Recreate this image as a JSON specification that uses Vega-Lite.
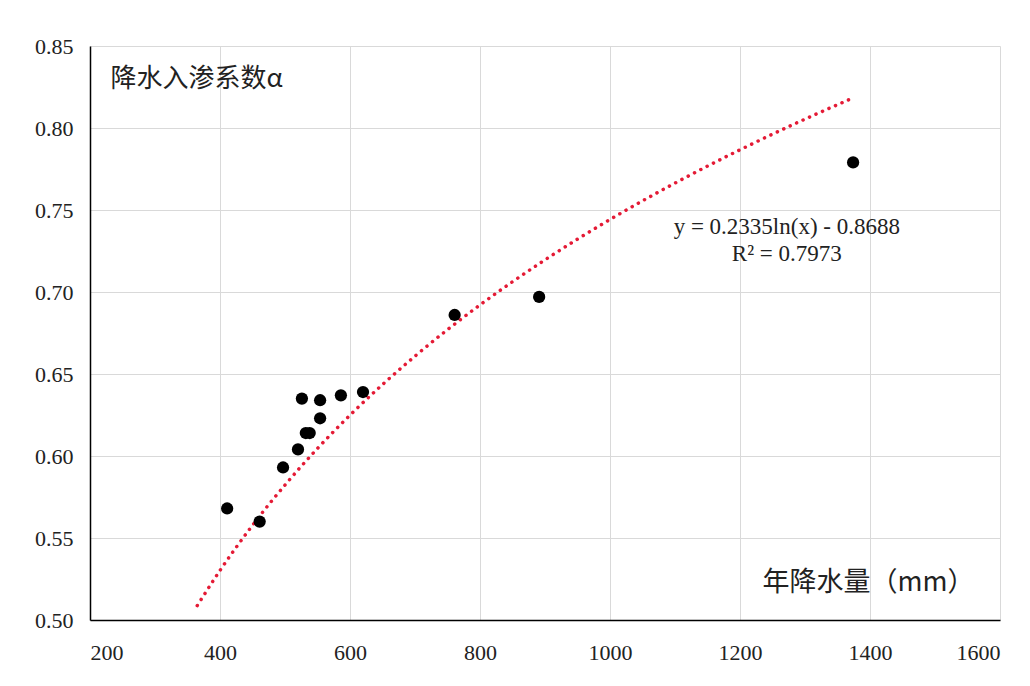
{
  "$schema": "https://vega.github.io/schema/vega-lite/v6.json",
  "autosize": {"type": "none"},
  "padding": {"left": 90, "top": 46, "right": 30, "bottom": 66},
  "width": 910,
  "height": 574,
  "background": "white",
  "config": {
    "view": {"stroke": null}
  },
  "datasets": {
    "obs": [
      {"x": 411, "y": 0.568},
      {"x": 461, "y": 0.560},
      {"x": 497, "y": 0.593},
      {"x": 520, "y": 0.604},
      {"x": 532, "y": 0.614},
      {"x": 538, "y": 0.614},
      {"x": 526, "y": 0.635},
      {"x": 554, "y": 0.634},
      {"x": 554, "y": 0.623},
      {"x": 586, "y": 0.637},
      {"x": 620, "y": 0.639},
      {"x": 761, "y": 0.686},
      {"x": 891, "y": 0.697},
      {"x": 1374, "y": 0.779}
    ],
    "trend": [
      {"x": 365, "y": 0.5088},
      {"x": 400, "y": 0.5302},
      {"x": 450, "y": 0.5577},
      {"x": 500, "y": 0.5823},
      {"x": 550, "y": 0.6046},
      {"x": 600, "y": 0.6249},
      {"x": 700, "y": 0.6609},
      {"x": 800, "y": 0.6921},
      {"x": 900, "y": 0.7196},
      {"x": 1000, "y": 0.7442},
      {"x": 1100, "y": 0.7664},
      {"x": 1200, "y": 0.7867},
      {"x": 1300, "y": 0.8054},
      {"x": 1372, "y": 0.8180}
    ]
  },
  "layer": [
    {
      "data": {"name": "trend"},
      "mark": {"type": "line", "color": "#e41a35", "strokeWidth": 3.5, "strokeDash": [0.1, 7], "strokeCap": "round", "interpolate": "monotone"},
      "encoding": {
        "x": {"field": "x", "type": "quantitative"},
        "y": {"field": "y", "type": "quantitative"}
      }
    },
    {
      "data": {"name": "obs"},
      "mark": {"type": "point", "filled": true, "color": "#000000", "size": 150, "opacity": 1},
      "encoding": {
        "x": {
          "field": "x", "type": "quantitative",
          "scale": {"domain": [200, 1600], "nice": false, "zero": false},
          "axis": {
            "values": [200, 400, 600, 800, 1000, 1200, 1400, 1600],
            "format": "d",
            "labelFont": "Liberation Serif",
            "labelFontSize": 22,
            "labelColor": "#222222",
            "labelPadding": 22,
            "ticks": false,
            "gridColor": "#d9d9d9",
            "gridWidth": 1,
            "domainColor": "#000000",
            "domainWidth": 1.5,
            "title": "年降水量（mm）",
            "titleFont": "Noto Sans CJK SC",
            "titleFontSize": 27,
            "titleFontWeight": "normal",
            "titleColor": "#222222",
            "titleX": 672,
            "titleY": -38,
            "titleAlign": "left",
            "titleBaseline": "middle",
            "titleAnchor": null
          }
        },
        "y": {
          "field": "y", "type": "quantitative",
          "scale": {"domain": [0.5, 0.85], "nice": false, "zero": false},
          "axis": {
            "values": [0.5, 0.55, 0.6, 0.65, 0.7, 0.75, 0.8, 0.85],
            "format": ".2f",
            "labelFont": "Liberation Serif",
            "labelFontSize": 22,
            "labelColor": "#222222",
            "labelPadding": 17,
            "ticks": false,
            "gridColor": "#d9d9d9",
            "gridWidth": 1,
            "domainColor": "#000000",
            "domainWidth": 1.5,
            "title": "降水入渗系数α",
            "titleFont": "Noto Sans CJK SC",
            "titleFontSize": 26,
            "titleFontWeight": "normal",
            "titleColor": "#222222",
            "titleAngle": 0,
            "titleX": 20,
            "titleY": 32,
            "titleAlign": "left",
            "titleBaseline": "middle",
            "titleAnchor": null
          }
        }
      }
    },
    {
      "data": {"values": [{"t": ["y = 0.2335ln(x) - 0.8688", "R² = 0.7973"]}]},
      "mark": {"type": "text", "font": "Liberation Serif", "fontSize": 23, "color": "#222222", "align": "center", "baseline": "middle", "lineHeight": 27},
      "encoding": {
        "x": {"datum": 1272},
        "y": {"datum": 0.7395},
        "text": {"field": "t"}
      }
    }
  ]
}
